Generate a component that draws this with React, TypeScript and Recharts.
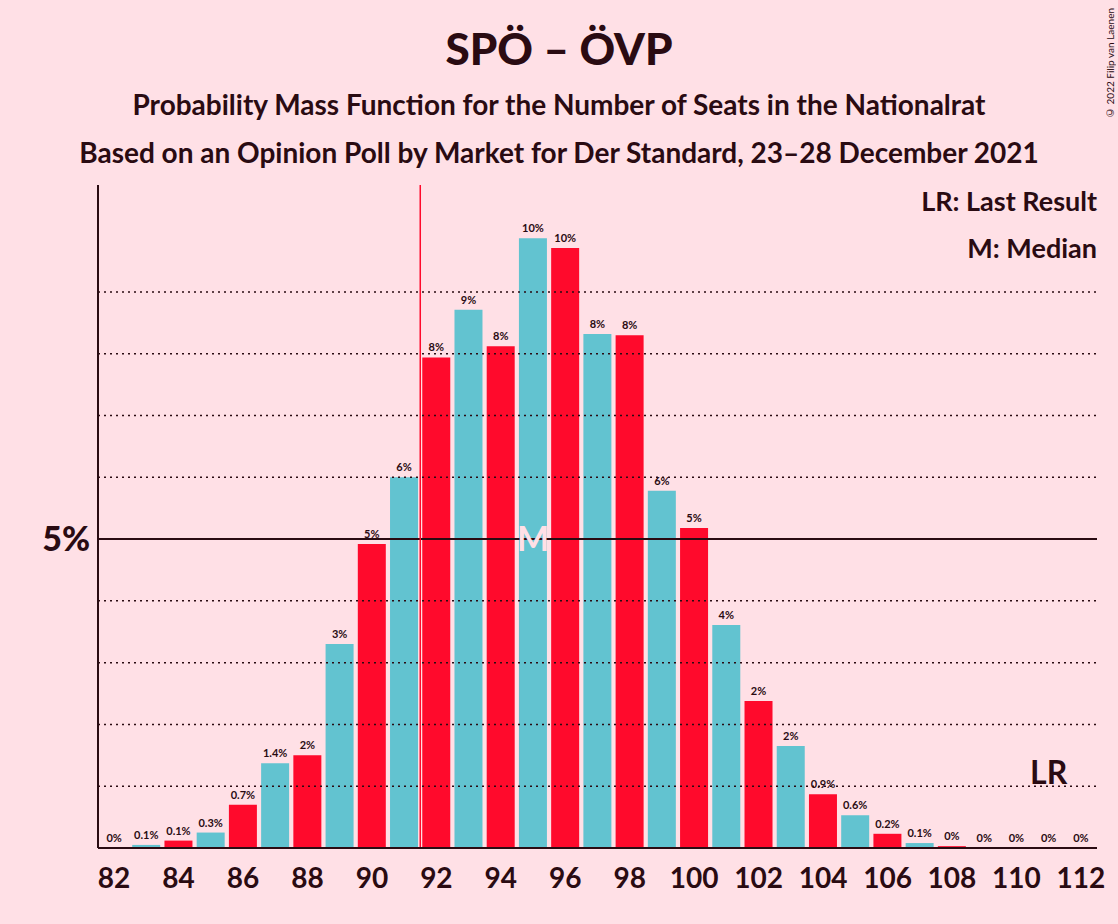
import React from "react"
import { BarChart, Bar, XAxis, YAxis, Cell, LabelList, ReferenceLine, ReferenceDot } from "recharts"

const seats = [82, 83, 84, 85, 86, 87, 88, 89, 90, 91, 92, 93, 94, 95, 96, 97, 98, 99, 100, 101, 102, 103, 104, 105, 106, 107, 108, 109, 110, 111, 112]
const probs = [0, 0.05, 0.12, 0.25, 0.7, 1.37, 1.5, 3.3, 4.92, 6.0, 7.94, 8.71, 8.12, 9.87, 9.71, 8.32, 8.3, 5.78, 5.18, 3.61, 2.38, 1.65, 0.87, 0.53, 0.23, 0.08, 0.03, 0, 0, 0, 0]
const labels = ["0%", "0.1%", "0.1%", "0.3%", "0.7%", "1.4%", "2%", "3%", "5%", "6%", "8%", "9%", "8%", "10%", "10%", "8%", "8%", "6%", "5%", "4%", "2%", "2%", "0.9%", "0.6%", "0.2%", "0.1%", "0%", "0%", "0%", "0%", "0%"]
const gridLevels = [1, 2, 3, 4, 6, 7, 8, 9]

const RED = "#ff0a2c"
const CYAN = "#62c3d0"
const INK = "#2a0b12"
const FONT = "Lato, 'Open Sans', sans-serif"

const data = seats.map((s, i) => ({ seat: s, p: probs[i], label: labels[i] }))
const labelStyle = { fontSize: 11, fontWeight: 700, fill: INK, fontFamily: FONT }

export default function App() {
  return (
    <div style={{ position: "absolute", left: 0, top: 0, width: 1118, height: 924, background: "#ffe0e6", fontFamily: FONT, color: INK }}>
      <div style={{ position: "absolute", top: 22, width: 1118, textAlign: "center", fontSize: 44, fontWeight: 900 }}>SPÖ – ÖVP</div>
      <div style={{ position: "absolute", top: 87, width: 1118, textAlign: "center", fontSize: 28, fontWeight: 700 }}>
        Probability Mass Function for the Number of Seats in the Nationalrat
      </div>
      <div style={{ position: "absolute", top: 135, width: 1118, textAlign: "center", fontSize: 28, fontWeight: 700 }}>
        Based on an Opinion Poll by Market for Der Standard, 23–28 December 2021
      </div>
      <div style={{ position: "absolute", top: 184, right: 21, fontSize: 27, fontWeight: 700 }}>LR: Last Result</div>
      <div style={{ position: "absolute", top: 231, right: 21, fontSize: 27, fontWeight: 700 }}>M: Median</div>
      <div style={{ position: "absolute", top: 8, left: 1104, fontSize: 10, writingMode: "vertical-rl", transform: "rotate(180deg)" }}>
        © 2022 Filip van Laenen
      </div>
      <BarChart width={1118} height={924} data={data} margin={{ top: 185, right: 21, bottom: 46, left: 0 }} barCategoryGap={2} style={{ position: "absolute", left: 0, top: 0 }}>
        <XAxis dataKey="seat" interval={1} tickLine={false} height={30} axisLine={{ stroke: INK, strokeWidth: 2 }}
          tick={{ fontSize: 28, fill: INK, fontWeight: 700, fontFamily: FONT }} tickMargin={14} />
        <YAxis domain={[0, 10.73]} ticks={[5]} tickFormatter={() => "5%"} width={98} tickLine={false}
          axisLine={{ stroke: INK, strokeWidth: 2 }} tick={{ fontSize: 34, fill: INK, fontWeight: 900, fontFamily: FONT }} />
        {gridLevels.map((g) => (
          <ReferenceLine key={g} y={g} stroke={INK} strokeDasharray="2 4" strokeWidth={1.5} />
        ))}
        <ReferenceLine y={5} stroke={INK} strokeWidth={2} />
        <Bar dataKey="p" isAnimationActive={false}>
          {data.map((d, i) => (
            <Cell key={i} fill={d.seat % 2 === 0 ? RED : CYAN} />
          ))}
          <LabelList dataKey="label" position="top" offset={6} style={labelStyle} />
        </Bar>
        {data.filter((d) => d.p === 0).map((d) => (
          <ReferenceDot key={d.seat} x={d.seat} y={0} r={0} stroke="none"
            label={{ value: d.label, position: "top", offset: 6, ...labelStyle }} />
        ))}
        <ReferenceLine x={92} position="start" stroke={RED} strokeWidth={1.5} />
        <ReferenceDot x={95} y={5} r={0} stroke="none" label={{ value: "M", position: "center", fontSize: 34, fontWeight: 700, fill: "#ffe0e6", fontFamily: FONT }} />
        <ReferenceDot x={111} y={1.22} r={0} stroke="none" label={{ value: "LR", position: "center", fontSize: 32, fontWeight: 700, fill: INK, fontFamily: FONT }} />
      </BarChart>
    </div>
  )
}
